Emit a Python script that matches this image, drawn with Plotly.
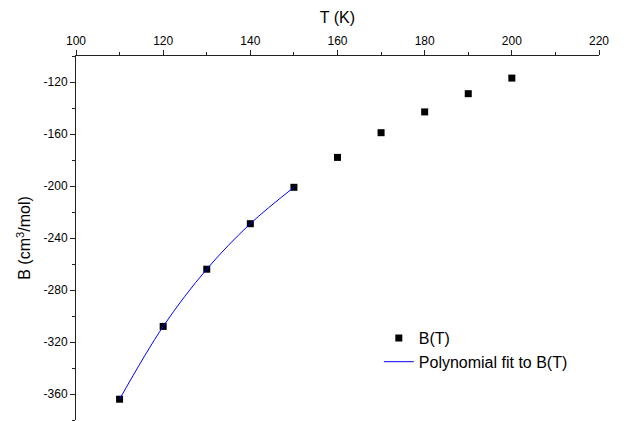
import plotly.graph_objects as go

# Data
T = [110, 120, 130, 140, 150, 160, 170, 180, 190, 200]
B = [-364, -308, -264, -229, -201, -178, -159, -143, -129, -117]
fit_T = [110, 120, 130, 140, 150]
fit_B = [-364, -308, -264, -229, -201]

x_ticks = [100, 120, 140, 160, 180, 200, 220]
y_ticks = [-120, -160, -200, -240, -280, -320, -360]
y_tick_text = ["-120", "-160", "-200", "-240", "-280", "-320", "-360"]

font = "Liberation Sans, Arial, sans-serif"

fig = go.Figure()
fig.add_trace(go.Scatter(
    x=T, y=B, mode="markers", name="B(T)",
    marker=dict(symbol="square", size=7, color="black"),
))
fig.add_trace(go.Scatter(
    x=fit_T, y=fit_B, mode="lines", name="Polynomial fit to B(T)",
    line=dict(color="#0000FF", width=1, shape="spline"),
))

fig.update_layout(
    width=632, height=421,
    margin=dict(l=68, r=41, t=45, b=9),
    plot_bgcolor="white", paper_bgcolor="white",
    font=dict(family=font, size=12, color="black"),
    showlegend=True,
    legend=dict(x=0.579, y=0.272, xanchor="left", yanchor="top",
                bgcolor="rgba(0,0,0,0)", font=dict(size=16),
                tracegroupgap=0),
)
fig.update_xaxes(
    side="top", range=[100, 220], tickvals=x_ticks,
    showline=True, linecolor="#222", linewidth=1,
    ticks="outside", ticklen=5, tickcolor="#222",
    minor=dict(dtick=10, tick0=100, ticks="outside", ticklen=3, tickcolor="#222"),
    showgrid=False, zeroline=False,
    title=dict(text="T (K)", standoff=6, font=dict(size=16)),
)
fig.update_yaxes(
    range=[-380, -100], tickvals=y_ticks, ticktext=y_tick_text,
    showline=True, linecolor="#222", linewidth=1,
    ticks="outside", ticklen=5, tickcolor="#222",
    minor=dict(dtick=20, tick0=-100, ticks="outside", ticklen=3, tickcolor="#222"),
    showgrid=False, zeroline=False,
    title=dict(text="B (cm<sup>3</sup>/mol)", standoff=8, font=dict(size=16)),
)

fig.write_html("out.html")
